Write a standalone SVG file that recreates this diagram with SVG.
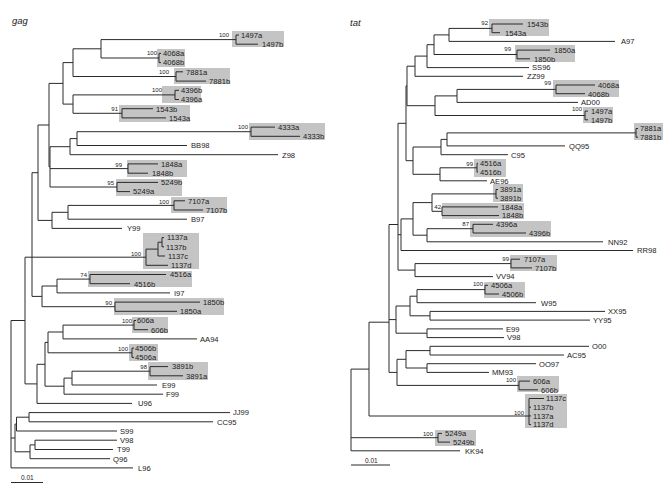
<svg xmlns="http://www.w3.org/2000/svg" width="672" height="490" viewBox="0 0 672 490">
<style>
.bg{fill:#ffffff}
.box{fill:#c4c4c4}
.br{fill:none;stroke:#2a2a2a;stroke-width:1}
text{font-family:"Liberation Sans",Arial,sans-serif;fill:#1a1a1a}
.tip{font-size:7.6px}
.bs{font-size:6px;text-anchor:end}
.ttl{font-size:9.5px;font-style:italic}
.sc{font-size:6.5px}
</style>
<rect class="bg" x="0" y="0" width="672" height="490"/>

<g id="titles">
<text class="ttl" x="12" y="24">gag</text>
<text class="ttl" x="350" y="26">tat</text>
</g>

<g id="gag-boxes">
<rect class="box" x="232" y="31" width="52" height="16"/>
<rect class="box" x="157" y="49" width="28" height="18"/>
<rect class="box" x="174" y="68" width="56" height="16"/>
<rect class="box" x="162" y="86" width="39" height="17"/>
<rect class="box" x="119" y="105" width="71" height="17"/>
<rect class="box" x="249" y="123" width="76" height="17"/>
<rect class="box" x="127" y="160" width="60" height="17"/>
<rect class="box" x="116" y="179" width="66" height="17"/>
<rect class="box" x="171" y="197" width="56" height="16"/>
<rect class="box" x="143" y="233" width="56" height="36"/>
<rect class="box" x="88" y="271" width="104" height="16"/>
<rect class="box" x="114" y="298" width="110" height="17"/>
<rect class="box" x="132" y="317" width="36" height="16"/>
<rect class="box" x="129" y="344" width="29" height="17"/>
<rect class="box" x="148" y="362" width="60" height="18"/>
</g>

<g id="tat-boxes">
<rect class="box" x="489" y="19" width="60" height="17"/>
<rect class="box" x="515" y="45" width="60" height="17"/>
<rect class="box" x="553" y="80" width="66" height="17"/>
<rect class="box" x="583" y="107" width="30" height="16"/>
<rect class="box" x="634" y="123" width="29" height="17"/>
<rect class="box" x="474" y="159" width="32" height="18"/>
<rect class="box" x="493" y="184" width="30" height="18"/>
<rect class="box" x="442" y="203" width="82" height="16"/>
<rect class="box" x="470" y="221" width="81" height="16"/>
<rect class="box" x="510" y="255" width="47" height="16"/>
<rect class="box" x="484" y="282" width="41" height="16"/>
<rect class="box" x="517" y="376" width="42" height="16"/>
<rect class="box" x="525" y="394" width="42" height="34"/>
<rect class="box" x="435" y="430" width="41" height="16"/>
</g>

<g id="connectors">
<path class="br" d="M101,39.6H236 M236,35V44.2 M236,35H239 M236,44.2H258
M101,58H159 M159,53.4V62.6 M159,53.4H161 M159,62.6H161
M101,39.6V58 M73,48.8H101
M73,76.5H176 M176,71.8V81.1 M176,71.8H183 M176,81.1H206
M73,48.8V76.5 M63,62.6H73
M73,94.9H175 M175,90.3V99.5 M175,90.3H179 M175,99.5H179
M73,113.3H122 M122,108.7V117.9 M122,108.7H153 M122,117.9H166
M73,94.9V113.3 M63,104.1H73
M63,62.6V104.1 M49,83.4H63
M77,131.7H251 M251,127.1V136.3 M251,127.1H275 M251,136.3H300
M77,145.5H187 M77,131.7V145.5 M70,138.6H77
M70,154.7H278 M70,138.6V154.7 M50,146.7H70
M50,168.6H128 M128,163.9V173.2 M128,163.9H158 M128,173.2H148
M50,187H117 M117,182.4V191.6 M117,182.4H158 M117,191.6H130
M50,146.7V187 M49,166.8H50
M49,83.4V166.8 M38,125H49
M68,205.4H174 M174,200.8V210 M174,200.8H185 M174,210H203
M68,219.2H187 M68,205.4V219.2 M52,212.3H68
M52,228.4H122 M52,212.3V228.4 M38,220.4H52
M38,125V220.4 M32,172.7H38
M162,237.6V246.8 M162,237.6H164 M162,246.8H164 M158,242.2H162
M158,242.2V256 M158,256H165 M146,249.1H158
M146,249.1V265.3 M146,265.3H168 M25,257.2H146
M57,279.1H90 M90,274.5V283.7 M90,274.5H166 M90,283.7H130
M57,292.9H170 M57,279.1V292.9 M42,286H57
M42,306.7H115 M115,302.1V311.3 M115,302.1H200 M115,311.3H177
M42,286V306.7 M32,296.4H42
M32,172.7V296.4
M63,325.1H134 M134,320.5V329.7 M134,320.5H136 M134,329.7H148
M63,338.9H197 M63,325.1V338.9 M48,332H63
M48,352.8H132 M132,348.1V357.4 M132,348.1H134 M132,357.4H134
M48,332V352.8 M45,342.4H48
M72,371.2H150 M150,366.6V375.8 M150,366.6H168 M150,375.8H183
M72,385H157 M72,371.2V385 M64,378.1H72
M64,394.2H163 M64,378.1V394.2 M45,386.2H64
M45,342.4V386.2 M37,364.3H45
M37,403.4H132 M37,364.3V403.4 M25,383.9H37
M25,257.2V383.9 M11,320.5H25
M29,412.6H230 M29,421.8H213 M29,412.6V421.8 M16.5,417.2H29
M16.5,431H117 M16.5,417.2V431 M15,424.1H16.5
M35,440.2H117 M35,449.5H113 M35,440.2V449.5 M30,444.9H35
M30,458.7H110 M30,444.9V458.7 M15,451.8H30
M15,424.1V451.8 M11,438H15
M11,467.9H133 M11,320.5V467.9
M11,482.5H43"/>
<path class="br" d="M449,28.4H492 M492,24V32.7 M492,24H523 M492,32.7H500
M449,41.4H615 M449,28.4V41.4 M434,34.9H449
M434,54.5H517 M517,50.1V58.8 M517,50.1H550 M517,58.8H530
M434,34.9V54.5 M427,44.7H434
M427,67.6H529 M427,44.7V67.6 M415,56.1H427
M415,76.3H523 M415,56.1V76.3 M407,66.2H415
M457,89.4H556 M556,85V93.7 M556,85H595 M556,93.7H585
M457,102.4H578 M457,89.4V102.4 M435,95.9H457
M435,115.5H585 M585,111.1V119.8 M585,111.1H588 M585,119.8H588
M435,95.9V115.5 M407,105.7H435
M407,66.2V105.7 M406,85.9H407
M447,132.9H636 M636,128.5V137.2 M636,128.5H638 M636,137.2H638
M447,145.9H565 M447,132.9V145.9 M441,139.4H447
M441,154.7H508 M441,139.4V154.7 M413,147H441
M440,167.8H477 M477,163.4V172.1 M477,163.4H478 M477,172.1H478
M440,180.8H487 M440,167.8V180.8 M413,174.3H440
M413,147V174.3 M406,160.7H413
M406,85.9V160.7 M398,123.3H406
M432,193.9H496 M496,189.5V198.2 M496,189.5H498 M496,198.2H498
M432,211.3H442 M442,206.9V215.6 M442,206.9H498 M442,215.6H499
M432,193.9V211.3 M413,202.6H432
M427,228.7H473 M473,224.3V233 M473,224.3H493 M473,233H526
M427,241.8H603 M427,228.7V241.8 M413,235.2H427
M413,202.6V235.2 M401,218.9H413
M401,250.5H633 M401,218.9V250.5 M398,234.7H401
M415,263.6H511 M511,259.2V267.9 M511,259.2H520 M511,267.9H532
M415,276.6H493 M415,263.6V276.6 M398,270.1H415
M398,123.3V270.1 M389,224.5H398
M417,289.6H485 M485,285.3V294 M485,285.3H488 M485,294H499
M417,302.7H536 M417,289.6V302.7 M410,296.2H417
M430,311.4H605 M430,320.1H590 M430,311.4V320.1 M410,315.8H430
M410,296.2V315.8 M396,306H410
M427,328.9H503 M427,337.6H504 M427,328.9V337.6 M396,333.2H427
M396,306V333.2 M389,319.6H396
M430,346.3H589 M430,355H564 M430,346.3V355 M406,350.6H430
M427,363.7H536 M427,372.4H489 M427,363.7V372.4 M406,368H427
M406,350.6V368 M397,359.3H406
M397,385.4H519 M519,381.1V389.8 M519,381.1H530 M519,389.8H538
M397,359.3V385.4 M389,372.4H397
M389,224.5V372.4 M369,322.2H389
M369,416H529 M529,398.5V424.6 M529,398.5H544 M529,407.2H531 M529,415.9H531 M529,424.6H531
M369,322.2V416 M351,369.1H369
M351,437.7H438 M438,433.4V442.1 M438,433.4H442 M438,442.1H450
M351,450.8H460 M351,369.1V450.8
M351,465H390"/>
</g>

<g id="gag-support">
<text class="bs" x="229" y="36.5">100</text>
<text class="bs" x="157" y="54.5">100</text>
<text class="bs" x="169" y="74">100</text>
<text class="bs" x="162" y="92">100</text>
<text class="bs" x="118" y="111">91</text>
<text class="bs" x="248" y="129">100</text>
<text class="bs" x="122" y="166.5">99</text>
<text class="bs" x="114" y="185">95</text>
<text class="bs" x="169" y="203.5">100</text>
<text class="bs" x="141" y="256">100</text>
<text class="bs" x="87" y="277">74</text>
<text class="bs" x="112" y="304.5">90</text>
<text class="bs" x="132" y="323">100</text>
<text class="bs" x="128" y="350.5">100</text>
<text class="bs" x="147" y="368.5">98</text>
</g>

<g id="tat-support">
<text class="bs" x="488" y="25">92</text>
<text class="bs" x="511" y="50.5">99</text>
<text class="bs" x="551" y="85">99</text>
<text class="bs" x="582" y="111">100</text>
<text class="bs" x="473" y="166">99</text>
<text class="bs" x="441" y="209">42</text>
<text class="bs" x="469" y="226">87</text>
<text class="bs" x="509" y="261">99</text>
<text class="bs" x="483" y="286">100</text>
<text class="bs" x="516" y="382">100</text>
<text class="bs" x="524" y="414.5">100</text>
<text class="bs" x="433" y="435.5">100</text>
</g>

<g id="gag-tips" class="tip">
<g id="g-1497a"><text class="tip" x="241" y="37.8">1497a</text></g>
<g id="g-1497b"><text class="tip" x="262" y="47">1497b</text></g>
<g id="g-4068a"><text class="tip" x="163" y="56.2">4068a</text></g>
<g id="g-4068b"><text class="tip" x="163" y="65.4">4068b</text></g>
<g id="g-7881a"><text class="tip" x="186" y="74.6">7881a</text></g>
<g id="g-7881b"><text class="tip" x="209" y="83.9">7881b</text></g>
<g id="g-4396b"><text class="tip" x="181" y="93.1">4396b</text></g>
<g id="g-4396a"><text class="tip" x="181" y="102.3">4396a</text></g>
<g id="g-1543b"><text class="tip" x="156" y="111.5">1543b</text></g>
<g id="g-1543a"><text class="tip" x="169" y="120.7">1543a</text></g>
<g id="g-4333a"><text class="tip" x="278" y="129.9">4333a</text></g>
<g id="g-4333b"><text class="tip" x="303" y="139.1">4333b</text></g>
<g id="g-BB98"><text class="tip" x="191" y="148.3">BB98</text></g>
<g id="g-Z98"><text class="tip" x="282" y="157.5">Z98</text></g>
<g id="g-1848a"><text class="tip" x="161" y="166.7">1848a</text></g>
<g id="g-1848b"><text class="tip" x="152" y="176">1848b</text></g>
<g id="g-5249b"><text class="tip" x="161" y="185.2">5249b</text></g>
<g id="g-5249a"><text class="tip" x="133" y="194.4">5249a</text></g>
<g id="g-7107a"><text class="tip" x="188" y="203.6">7107a</text></g>
<g id="g-7107b"><text class="tip" x="206" y="212.8">7107b</text></g>
<g id="g-B97"><text class="tip" x="191" y="222">B97</text></g>
<g id="g-Y99"><text class="tip" x="127" y="231.2">Y99</text></g>
<g id="g-1137a"><text class="tip" x="167" y="240.4">1137a</text></g>
<g id="g-1137b"><text class="tip" x="166" y="249.6">1137b</text></g>
<g id="g-1137c"><text class="tip" x="168" y="258.8">1137c</text></g>
<g id="g-1137d"><text class="tip" x="171" y="268.1">1137d</text></g>
<g id="g-4516a"><text class="tip" x="170" y="277.3">4516a</text></g>
<g id="g-4516b"><text class="tip" x="134" y="286.5">4516b</text></g>
<g id="g-I97"><text class="tip" x="174" y="295.7">I97</text></g>
<g id="g-1850b"><text class="tip" x="203" y="304.9">1850b</text></g>
<g id="g-1850a"><text class="tip" x="180" y="314.1">1850a</text></g>
<g id="g-606a"><text class="tip" x="137" y="323.3">606a</text></g>
<g id="g-606b"><text class="tip" x="151" y="332.5">606b</text></g>
<g id="g-AA94"><text class="tip" x="200" y="341.7">AA94</text></g>
<g id="g-4506b"><text class="tip" x="135" y="350.9">4506b</text></g>
<g id="g-4506a"><text class="tip" x="135" y="360.2">4506a</text></g>
<g id="g-3891b"><text class="tip" x="172" y="369.4">3891b</text></g>
<g id="g-3891a"><text class="tip" x="186" y="378.6">3891a</text></g>
<g id="g-E99"><text class="tip" x="162" y="387.8">E99</text></g>
<g id="g-F99"><text class="tip" x="166" y="397">F99</text></g>
<g id="g-U96"><text class="tip" x="138" y="406.2">U96</text></g>
<g id="g-JJ99"><text class="tip" x="233" y="415.4">JJ99</text></g>
<g id="g-CC95"><text class="tip" x="217" y="424.6">CC95</text></g>
<g id="g-S99"><text class="tip" x="120" y="433.8">S99</text></g>
<g id="g-V98"><text class="tip" x="120" y="443">V98</text></g>
<g id="g-T99"><text class="tip" x="117" y="452.3">T99</text></g>
<g id="g-Q96"><text class="tip" x="113" y="461.5">Q96</text></g>
<g id="g-L96"><text class="tip" x="138" y="470.7">L96</text></g>
</g>

<g id="tat-tips">
<g id="t-1543b"><text class="tip" x="527" y="26.8">1543b</text></g>
<g id="t-1543a"><text class="tip" x="505" y="35.5">1543a</text></g>
<g id="t-A97"><text class="tip" x="621" y="44.2">A97</text></g>
<g id="t-1850a"><text class="tip" x="554" y="52.9">1850a</text></g>
<g id="t-1850b"><text class="tip" x="534" y="61.6">1850b</text></g>
<g id="t-SS96"><text class="tip" x="532" y="70.4">SS96</text></g>
<g id="t-ZZ99"><text class="tip" x="527" y="79.1">ZZ99</text></g>
<g id="t-4068a"><text class="tip" x="598" y="87.8">4068a</text></g>
<g id="t-4068b"><text class="tip" x="588" y="96.5">4068b</text></g>
<g id="t-AD00"><text class="tip" x="581" y="105.2">AD00</text></g>
<g id="t-1497a"><text class="tip" x="591" y="113.9">1497a</text></g>
<g id="t-1497b"><text class="tip" x="591" y="122.6">1497b</text></g>
<g id="t-7881a"><text class="tip" x="640" y="131.3">7881a</text></g>
<g id="t-7881b"><text class="tip" x="640" y="140">7881b</text></g>
<g id="t-QQ95"><text class="tip" x="569" y="148.7">QQ95</text></g>
<g id="t-C95"><text class="tip" x="511" y="157.5">C95</text></g>
<g id="t-4516a"><text class="tip" x="480" y="166.2">4516a</text></g>
<g id="t-4516b"><text class="tip" x="480" y="174.9">4516b</text></g>
<g id="t-AE96"><text class="tip" x="490" y="183.6">AE96</text></g>
<g id="t-3891a"><text class="tip" x="500" y="192.3">3891a</text></g>
<g id="t-3891b"><text class="tip" x="500" y="201">3891b</text></g>
<g id="t-1848a"><text class="tip" x="501" y="209.7">1848a</text></g>
<g id="t-1848b"><text class="tip" x="502" y="218.4">1848b</text></g>
<g id="t-4396a"><text class="tip" x="496" y="227.1">4396a</text></g>
<g id="t-4396b"><text class="tip" x="529" y="235.8">4396b</text></g>
<g id="t-NN92"><text class="tip" x="608" y="244.6">NN92</text></g>
<g id="t-RR98"><text class="tip" x="637" y="253.3">RR98</text></g>
<g id="t-7107a"><text class="tip" x="524" y="262">7107a</text></g>
<g id="t-7107b"><text class="tip" x="535" y="270.7">7107b</text></g>
<g id="t-VV94"><text class="tip" x="496" y="279.4">VV94</text></g>
<g id="t-4506a"><text class="tip" x="491" y="288.1">4506a</text></g>
<g id="t-4506b"><text class="tip" x="502" y="296.8">4506b</text></g>
<g id="t-W95"><text class="tip" x="541" y="305.5">W95</text></g>
<g id="t-XX95"><text class="tip" x="608" y="314.2">XX95</text></g>
<g id="t-YY95"><text class="tip" x="593" y="322.9">YY95</text></g>
<g id="t-E99"><text class="tip" x="506" y="331.7">E99</text></g>
<g id="t-V98"><text class="tip" x="507" y="340.4">V98</text></g>
<g id="t-O00"><text class="tip" x="592" y="349.1">O00</text></g>
<g id="t-AC95"><text class="tip" x="567" y="357.8">AC95</text></g>
<g id="t-OO97"><text class="tip" x="539" y="366.5">OO97</text></g>
<g id="t-MM93"><text class="tip" x="492" y="375.2">MM93</text></g>
<g id="t-606a"><text class="tip" x="533" y="383.9">606a</text></g>
<g id="t-606b"><text class="tip" x="541" y="392.6">606b</text></g>
<g id="t-1137c"><text class="tip" x="546" y="401.3">1137c</text></g>
<g id="t-1137b"><text class="tip" x="533" y="410">1137b</text></g>
<g id="t-1137a"><text class="tip" x="533" y="418.7">1137a</text></g>
<g id="t-1137d"><text class="tip" x="533" y="427.4">1137d</text></g>
<g id="t-5249a"><text class="tip" x="445" y="436.2">5249a</text></g>
<g id="t-5249b"><text class="tip" x="453" y="444.9">5249b</text></g>
<g id="t-KK94"><text class="tip" x="465" y="453.6">KK94</text></g>
</g>

<g id="scales">
<text class="sc" x="21" y="480">0.01</text>
<text class="sc" x="365" y="463">0.01</text>
</g>
</svg>
